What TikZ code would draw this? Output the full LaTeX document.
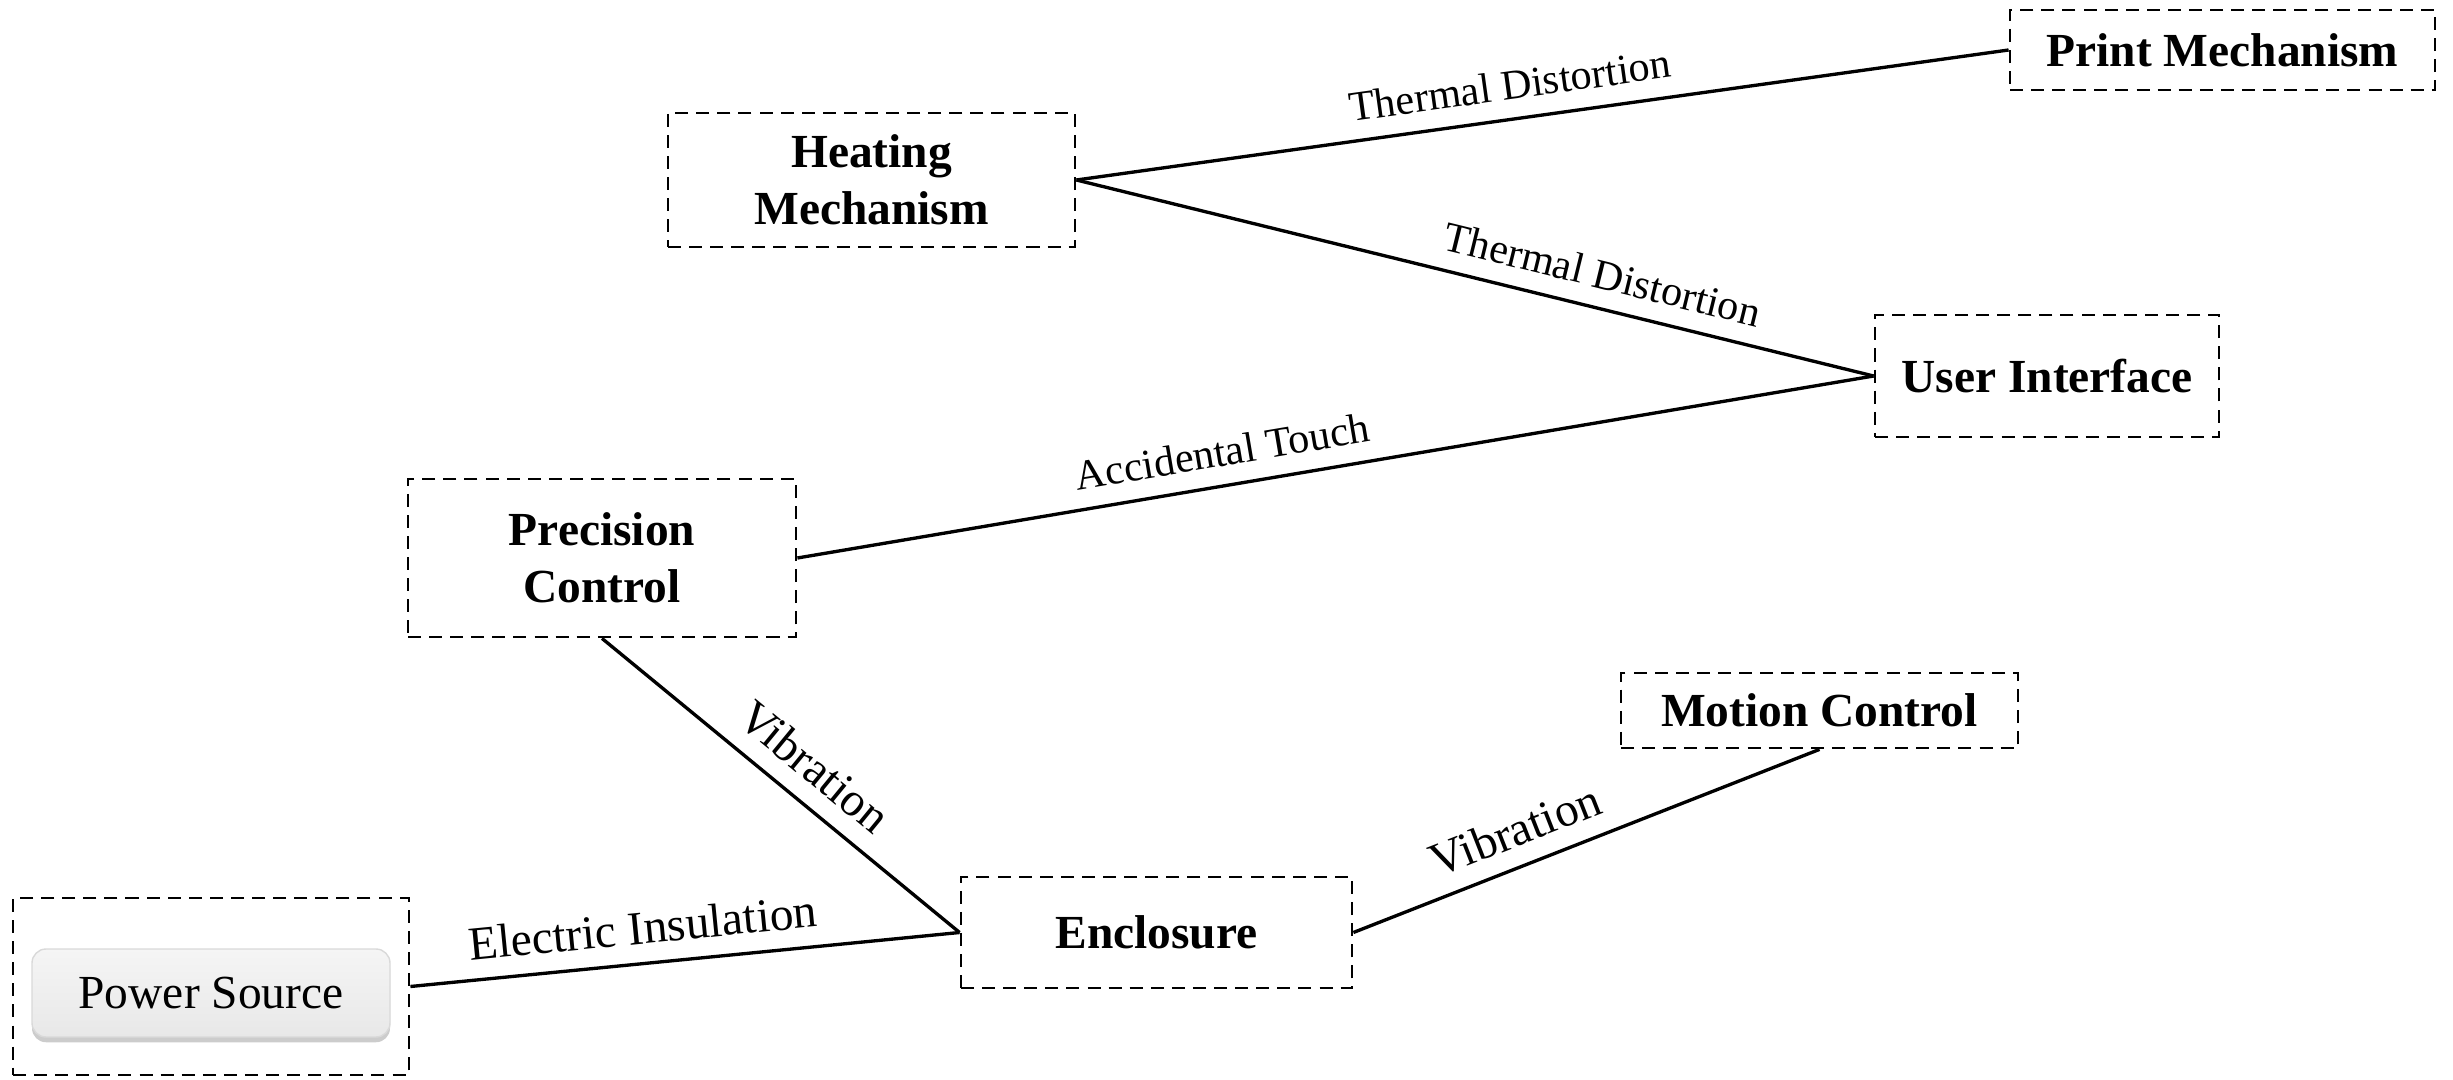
\documentclass[tikz,border=0pt]{standalone}
\usepackage{fontspec}
\setmainfont{Liberation Serif}
\usetikzlibrary{positioning,shadows}
\tikzset{
  part/.style={draw, line width=0.8pt, dash pattern=on 3.7pt off 2.3pt, align=center, inner sep=0pt,
               font=\fontsize{13.5}{16.2}\selectfont\bfseries},
  tie/.style={line width=0.95pt},
  tag/.style={sloped, above=3pt, inner sep=2pt, font=\fontsize{#1}{15}\selectfont},
  tag/.default=12,
  knob/.style={rounded corners=4pt, draw=gray!30, line width=0.4pt, top color=gray!8, middle color=gray!20,
               bottom color=gray!18, font=\fontsize{13.5}{16}\selectfont,
               drop shadow={shadow xshift=0pt, shadow yshift=-1.5pt, opacity=0.4}},
}

\begin{document}
\begin{tikzpicture}
\useasboundingbox (0,0) rectangle (24.53,-10.80);
\node[part, minimum width=4.25cm, minimum height=0.80cm] (print) at (22.225,-0.50) {Print Mechanism};
\node[part, minimum width=4.07cm, minimum height=1.34cm] (heat) at (8.715,-1.80) {Heating\\Mechanism};
\node[part, minimum width=3.44cm, minimum height=1.22cm] (ui) at (20.47,-3.76) {User Interface};
\node[part, minimum width=3.88cm, minimum height=1.58cm] (prec) at (6.02,-5.58) {Precision\\Control};
\node[part, minimum width=3.97cm, minimum height=0.75cm] (motion) at (18.195,-7.105) {Motion Control};
\node[part, minimum width=3.91cm, minimum height=1.11cm] (encl) at (11.565,-9.325) {Enclosure};
\node[part, minimum width=3.96cm, minimum height=1.77cm] (powerbox) at (2.11,-9.865) {};
\node[knob, minimum width=3.58cm, minimum height=0.88cm] (power) at (2.11,-9.93) {Power Source};
\draw[tie] (heat.east) -- node[tag, pos=0.47] {Thermal Distortion} (print.west);
\draw[tie] (heat.east) -- node[tag, pos=0.65] {Thermal Distortion} (ui.west);
\draw[tie] (prec.east) -- node[tag, pos=0.40] {Accidental Touch} (ui.west);
\draw[tie] (prec.south) -- node[tag=13.5, pos=0.53] {Vibration} (encl.west);
\draw[tie] (powerbox.east) -- node[tag=13.5, pos=0.43] {Electric Insulation} (encl.west);
\draw[tie] (encl.east) -- node[tag=13.5, pos=0.375] {Vibration} (motion.south);
\end{tikzpicture}
\end{document}
